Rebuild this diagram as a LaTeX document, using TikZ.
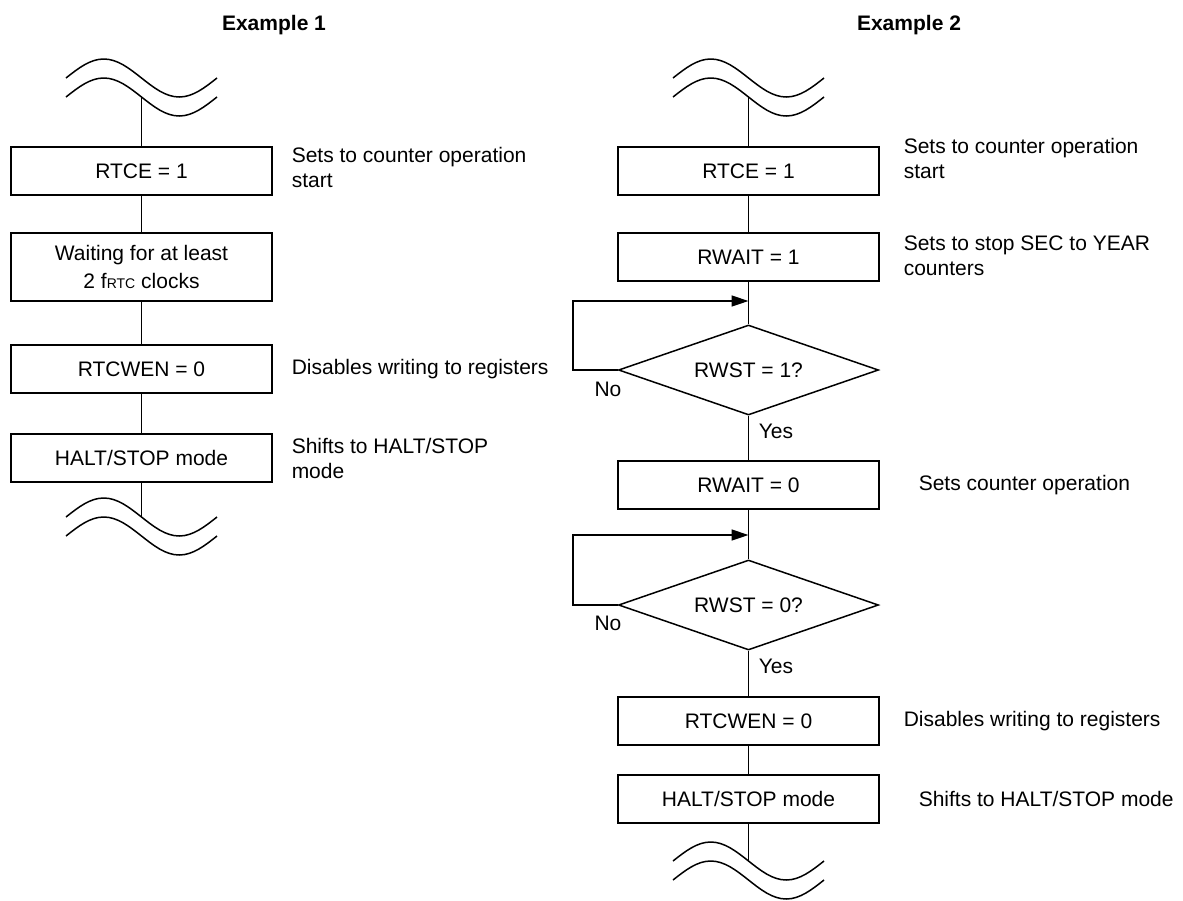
\documentclass[tikz,border=0pt]{standalone}
\usepackage{fontspec}
\setmainfont{Liberation Sans}
\usepackage{tikz}
\usetikzlibrary{arrows.meta,shapes.geometric}

\begin{document}
\begin{tikzpicture}[x=1pt,y=-1pt, line width=1.5pt,
    box/.style={rectangle, draw, minimum width=261pt, minimum height=48pt,
                inner sep=0pt, align=center, font=\fontsize{21}{28}\selectfont},
    test/.style={diamond, draw, aspect=2.9, minimum width=260pt,
                 minimum height=90pt, inner sep=2pt, font=\fontsize{21}{26}\selectfont},
    note/.style={anchor=west, align=left, inner sep=0pt, font=\fontsize{21}{25}\selectfont},
    lbl/.style={inner sep=0pt, font=\fontsize{21}{25}\selectfont},
    back/.style={-{Triangle[length=17pt,width=11pt]}}]

  % two wavy lines that cut the flow off at top and bottom
  \def\breakwave#1#2{%
    \foreach \dy in {0,19}{
      \draw (#1-75.5,#2+\dy) sin (#1-37.75,#2+\dy-19) cos (#1,#2+\dy)
            sin (#1+37.75,#2+\dy+19) cos (#1+75.5,#2+\dy);}}

  % ================= Example 1 =================
  \node[lbl, font=\fontsize{21}{25}\selectfont\bfseries] (titleA) at (274,25) {Example 1};
  \breakwave{141.5}{78}
  \coordinate (topA) at (141.5,97);

  \node[box] (rtceA) at (141.5,171) {RTCE = 1};
  \node[box, minimum height=68pt] (waitA) at (141.5,267)
       {Waiting for at least\\2 f{\fontsize{14}{14}\selectfont RTC} clocks};
  \node[box] (wenA) at (141.5,369) {RTCWEN = 0};
  \node[box] (haltA) at (141.5,458) {HALT/STOP mode};

  \breakwave{141.5}{517}
  \coordinate (botA) at (141.5,517);

  \draw (topA) -- (rtceA) -- (waitA) -- (wenA) -- (haltA) -- (botA);

  \node[note] (noteA1) at (291,167.5) {Sets to counter operation\\start};
  \node[note] (noteA2) at (291,369) {Disables writing to registers};
  \node[note] (noteA3) at (291,458) {Shifts to HALT/STOP\\mode};

  % ================= Example 2 =================
  \node[lbl, font=\fontsize{21}{25}\selectfont\bfseries] (titleB) at (909,25) {Example 2};
  \breakwave{748.5}{78}
  \coordinate (topB) at (748.5,97);

  \node[box] (rtceB) at (748.5,171) {RTCE = 1};
  \node[box] (rwaitB) at (748.5,257) {RWAIT = 1};
  \node[test] (dA) at (748.5,370) {RWST = 1?};
  \node[box] (rwaitC) at (748.5,485) {RWAIT = 0};
  \node[test] (dB) at (748.5,605) {RWST = 0?};
  \node[box] (wenB) at (748.5,721) {RTCWEN = 0};
  \node[box] (haltB) at (748.5,799) {HALT/STOP mode};

  \breakwave{748.5}{861}
  \coordinate (botB) at (748.5,861);

  \draw (topB) -- (rtceB) -- (rwaitB) -- (dA) -- (rwaitC) -- (dB)
        -- (wenB) -- (haltB) -- (botB);

  % ---- the two wait loops back to the line above each test ----
  \coordinate (jA) at (748.5,301);
  \coordinate (lpA) at (573,370);
  \draw[back] (dA.west) -- (lpA) |- (jA);
  \coordinate (jB) at (748.5,535);
  \coordinate (lpB) at (573,605);
  \draw[back] (dB.west) -- (lpB) |- (jB);

  \node[lbl] (noA) at (608,389) {No};
  \node[lbl, anchor=west] (yesA) at (758,431) {Yes};
  \node[lbl] (noB) at (608,623) {No};
  \node[lbl, anchor=west] (yesB) at (758,666) {Yes};

  \node[note] (noteB1) at (903,158.5) {Sets to counter operation\\start};
  \node[note] (noteB2) at (903,256) {Sets to stop SEC to YEAR\\counters};
  \node[note] (noteB3) at (918,485) {Sets counter operation};
  \node[note] (noteB4) at (903,721) {Disables writing to registers};
  \node[note] (noteB5) at (918,799) {Shifts to HALT/STOP mode};

  \path (0,0) rectangle (1183,900);
\end{tikzpicture}
\end{document}
